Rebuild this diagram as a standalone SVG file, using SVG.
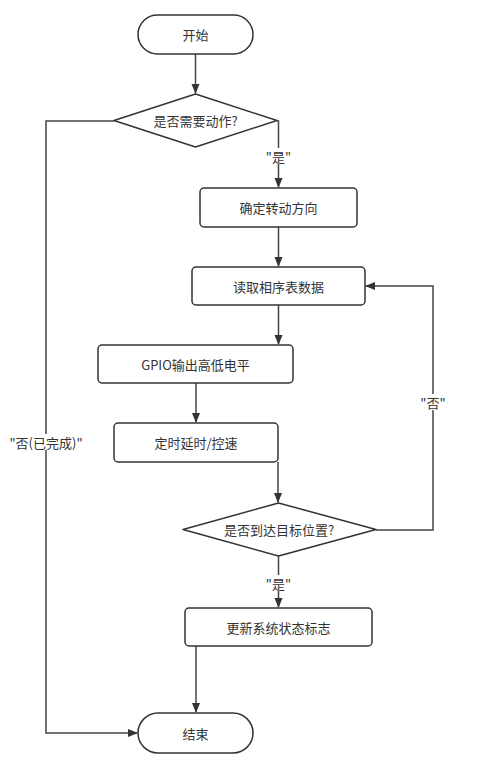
<svg xmlns="http://www.w3.org/2000/svg" width="477" height="768" viewBox="0 0 477 768">
<style>
.n{fill:#fff;stroke:#333;stroke-width:1.5}
.t{font-family:"Noto Sans CJK SC","Liberation Sans",sans-serif;font-size:13px;fill:#333;text-anchor:middle;dominant-baseline:central}
.e{fill:none;stroke:#444;stroke-width:1.5}
.lb{fill:#fff}
</style>
<defs>
<marker id="a" markerWidth="10" markerHeight="10" refX="9" refY="5" orient="auto" markerUnits="userSpaceOnUse">
<path d="M0,1 L10,5 L0,9 Z" fill="#333"/>
</marker>
</defs>
<rect width="477" height="768" fill="#fff"/>
<g id="edges">
<path class="e" d="M195.5,54 V93" marker-end="url(#a)"/>
<path class="e" d="M277,121 H278.5 V187" marker-end="url(#a)"/>
<path class="e" d="M278.5,227 V266" marker-end="url(#a)"/>
<path class="e" d="M278.5,305 V344" marker-end="url(#a)"/>
<path class="e" d="M196,383 V422" marker-end="url(#a)"/>
<path class="e" d="M278,462 V502" marker-end="url(#a)"/>
<path class="e" d="M376,530 H433 V286 H366" marker-end="url(#a)"/>
<path class="e" d="M278.5,556 V607" marker-end="url(#a)"/>
<path class="e" d="M196,646 V712" marker-end="url(#a)"/>
<path class="e" d="M114,121 H46 V733 H137" marker-end="url(#a)"/>
<rect class="lb" x="266" y="148" width="25" height="16"/>
<text class="t" x="278.5" y="156">"是"</text>
<rect class="lb" x="421" y="394" width="25" height="16"/>
<text class="t" x="433" y="402">"否"</text>
<rect class="lb" x="266" y="575" width="25" height="16"/>
<text class="t" x="278.5" y="583">"是"</text>
<rect class="lb" x="10" y="434" width="72" height="16"/>
<text class="t" x="46" y="442">"否(已完成)"</text>
</g>
<g id="start"><rect class="n" x="138" y="15" width="115" height="39" rx="19.5"/><text class="t" x="195.5" y="34.5">开始</text></g>
<g id="d1"><path class="n" d="M195.5,94 L277,120.5 L195.5,147 L114,120.5 Z" stroke-linejoin="round"/><text class="t" x="195.5" y="120.5">是否需要动作?</text></g>
<g id="dir"><rect class="n" x="200" y="188" width="157" height="39" rx="4"/><text class="t" x="278.5" y="207.5">确定转动方向</text></g>
<g id="read"><rect class="n" x="192" y="267" width="173" height="38" rx="4"/><text class="t" x="278.5" y="286">读取相序表数据</text></g>
<g id="gpio"><rect class="n" x="98" y="345" width="195" height="38" rx="4"/><text class="t" x="195.5" y="364">GPIO输出高低电平</text></g>
<g id="delay"><rect class="n" x="114" y="423" width="164" height="39" rx="4"/><text class="t" x="196" y="442.5">定时延时/控速</text></g>
<g id="d2"><path class="n" d="M278.5,503 L376,529.5 L278.5,556 L183,529.5 Z" stroke-linejoin="round"/><text class="t" x="279" y="529.5">是否到达目标位置?</text></g>
<g id="upd"><rect class="n" x="185" y="608" width="187" height="38" rx="4"/><text class="t" x="278.5" y="627">更新系统状态标志</text></g>
<g id="end"><rect class="n" x="138" y="713" width="115" height="40" rx="20"/><text class="t" x="195.5" y="733">结束</text></g>
</svg>
